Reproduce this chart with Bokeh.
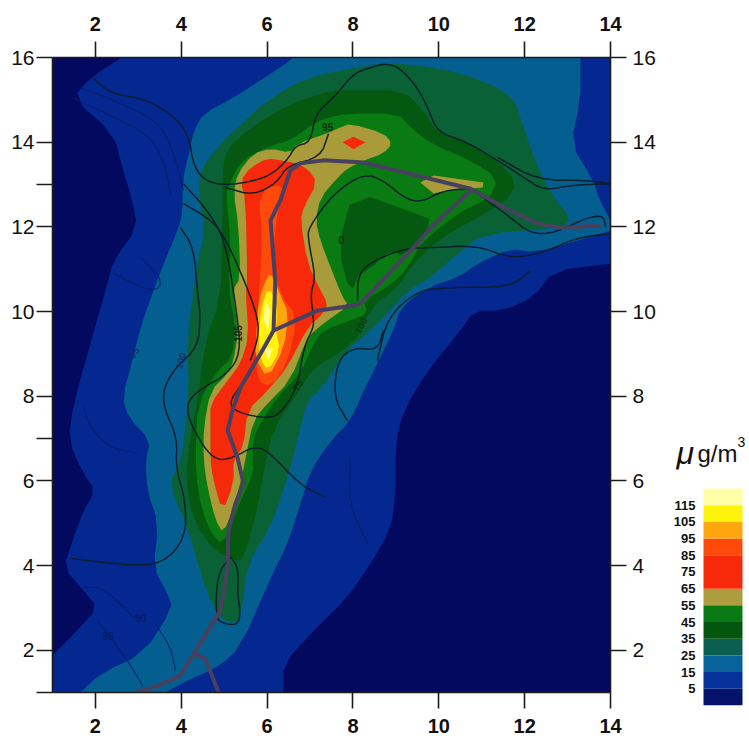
from bokeh.plotting import figure
from bokeh.layouts import row, column
from bokeh.models import Range1d, LinearAxis, FixedTicker, ColumnDataSource
from bokeh.core.properties import value
from bokeh.embed import file_html
from bokeh.resources import INLINE

AXIS_TICKS = [2, 4, 6, 8, 10, 12, 14]
Y_TICKS = [2, 4, 6, 8, 10, 12, 14, 16]
Y_MINOR = [1, 7, 13]

# filled concentration bands (map km coordinates), outermost first
BAND_5 = [(2.61,16),(1.89,15.53),(1.47,15.05),(2.42,14.2),(2.63,13.4),(2.86,12.62),(2.98,11.98),(2.42,11.21),(2.28,10.66),(1.95,9.48),(1.49,7.82),(1.37,6.95),(1.72,6.17),(2.0,5.77),(1.72,5.3),(1.47,4.59),(1.26,3.95),(1.72,3.41),(2.05,3.01),(1.65,2.54),(1,1.88),(1,1),(6.38,1),(6.38,1.68),(7.08,2.46),(7.87,3.24),(8.41,4.05),(8.87,4.83),(8.99,5.61),(8.99,6.88),(9.18,7.66),(9.74,8.61),(10.51,9.55),(10.81,10.02),(11.51,10.02),(12.21,10.34),(12.67,10.97),(14,11.13),(14,16)]
BAND_15 = [(6.61,16),(6.38,15.81),(5.22,15.05),(4.52,14.68),(4.29,14.27),(4.21,13.87),(4.03,13.09),(4.03,12.3),(3.91,11.9),(3.59,11.13),(3.35,10.49),(3.05,9.62),(2.86,8.84),(2.63,7.97),(2.77,7.5),(3.28,6.95),(3.17,6.48),(3.21,5.77),(3.47,4.98),(3.35,3.95),(3.68,3.34),(3.8,2.99),(3.12,1.92),(2.12,1.45),(1.65,1),(3.63,1),(4.14,1.28),(4.84,1.59),(5.38,2.07),(6.08,3.71),(6.48,4.52),(6.78,5.46),(7.01,6.24),(7.48,6.95),(7.94,7.42),(8.25,8.13),(8.57,8.77),(8.94,9.55),(9.11,10.09),(9.74,10.57),(10.44,10.8),(10.9,11.13),(11.67,11.49),(12.21,11.39),(13.23,11.67),(13.84,11.86),(14,11.91),(14,12.15),(13.72,12.69),(13.6,13.09),(13.07,13.97),(13.3,14.98),(13.3,16)]
BAND_25 = [(7.94,15.74),(8.8,15.88),(9.97,15.76),(11.04,15.46),(11.74,15.05),(11.9,14.58),(12.3,13.4),(12.67,12.69),(13.07,12.22),(12.91,11.98),(11.04,11.84),(10.44,11.37),(9.81,10.8),(9.27,10.49),(8.8,9.95),(8.34,9.48),(7.83,9.07),(7.24,8.13),(6.94,7.94),(6.66,6.79),(6.47,6.08),(6.08,4.9),(5.54,4.05),(5.38,2.7),(5.08,2.63),(4.75,3.01),(4.45,3.81),(4.15,4.9),(3.7,5.94),(3.98,6.41),(4.1,7.26),(4.17,8.06),(4.15,9.48),(4.26,10.26),(4.38,11.21),(4.56,11.91),(4.38,12.86),(4.52,13.5),(5.15,14.21),(6.08,15.05),(6.94,15.53)]
BAND_35 = [(4.96,13.21),(5.03,13.8),(5.61,14.35),(6.54,14.91),(7.48,15.22),(8.01,15.22),(9.18,15.22),(9.64,14.75),(9.97,14.21),(10.74,13.97),(11.37,13.57),(11.83,13.02),(11.51,12.55),(11.04,12.31),(9.97,11.68),(9.41,11.13),(9.04,10.57),(8.41,10.09),(8.18,9.48),(7.78,9.08),(7.08,8.68),(6.71,8.06),(6.15,7.26),(5.92,6.24),(5.78,5.37),(5.45,4.12),(5.26,4.12),(4.75,4.36),(4.28,5.06),(4.1,6.08),(4.21,7.02),(4.38,7.9),(4.56,9.31),(4.91,10.26),(4.96,11.91)]
BAND_45 = [(5.05,12.74),(5.08,12.93),(5.38,13.57),(6.08,13.92),(6.54,14.04),(7.08,14.44),(7.41,14.58),(7.87,14.68),(9.04,14.68),(9.34,14.35),(9.81,13.97),(10.74,13.57),(11.37,13.16),(11.2,12.69),(10.9,12.55),(10.44,12.31),(9.57,11.61),(9.34,11.13),(8.94,10.66),(8.25,10.26),(8.34,9.95),(7.94,9.79),(7.31,9.55),(7.08,9.24),(6.78,8.54),(6.31,8.06),(5.92,7.5),(5.68,7.02),(5.66,6.55),(5.68,6.17),(5.31,5.37),(4.98,4.43),(4.61,4.9),(4.38,5.77),(4.33,6.55),(4.38,7.82),(4.84,8.61),(5.19,8.91),(5.26,9.71),(5.1,10.49),(5.15,11.68)]
HOLE_35 = [(8.01,12.85),(9.55,12.28),(9.85,12.15),(9.45,11.45),(8.18,10.98),(7.94,10.4),(7.65,11.51)]
LENS_45 = [(8.41,11.04),(8.94,11.49),(9.27,11.13),(9.11,10.8),(8.57,10.73)]
BAND_55 = [(5.31,13.26),(5.68,13.73),(6.08,13.85),(6.54,13.75),(6.71,13.97),(7.41,14.21),(7.71,14.35),(7.94,14.44),(8.71,14.21),(8.92,13.97),(8.71,13.73),(8.25,13.57),(7.87,13.38),(7.64,13.16),(7.24,12.69),(7.13,12.15),(7.24,11.68),(7.48,11.04),(7.76,10.33),(7.9,10.14),(7.31,9.72),(6.94,9.39),(6.54,8.37),(6.01,7.83),(5.68,7.43),(5.5,6.55),(5.43,6.17),(5.22,5.37),(4.98,4.76),(4.8,5.06),(4.61,5.84),(4.52,6.48),(4.52,7.26),(4.68,8.13),(5.08,8.53),(5.22,8.84),(5.33,9.55),(5.19,10.49),(5.38,10.8),(5.33,12.08),(5.22,12.79)]
ISLAND_55 = [(9.57,13.05),(9.88,13.21),(11.04,13.05),(11.02,12.93),(10.2,12.86),(9.88,12.79)]
BAND_65 = [(5.38,13.09),(5.61,13.4),(6.01,13.62),(6.31,13.57),(6.61,13.52),(6.94,13.38),(7.17,13.05),(6.85,12.46),(6.78,12.15),(6.94,11.14),(7.24,10.5),(7.41,10.19),(7.31,9.95),(6.94,9.62),(6.47,8.68),(6.01,8.13),(5.54,7.66),(5.45,6.79),(5.22,6.55),(5.22,5.94),(4.96,5.25),(4.73,6.08),(4.68,6.55),(4.68,7.35),(4.68,7.83),(5.08,8.37),(5.38,8.77),(5.57,9.39),(5.5,10.42),(5.54,10.66),(5.5,12.62)]
ISLAND_65 = [(7.76,14.0),(8.01,14.13),(8.29,14.0),(8.01,13.83)]
BAND_85 = [(5.8,12.86),(6.43,13.02),(6.24,12.39),(6.13,11.21),(6.31,10.39),(6.71,9.87),(6.47,8.77),(6.08,8.21),(5.78,8.37),(5.73,9.08),(5.8,10.26),(5.89,11.68)]
BAND_95 = [(6.01,10.85),(5.8,10.26),(5.75,9.48),(5.72,8.91),(6.01,8.4),(6.4,9.15),(6.5,9.95),(6.3,10.4),(6.13,10.85)]
BAND_105 = [(6.03,10.6),(5.85,10.02),(5.8,9.32),(5.85,8.85),(6.03,8.6),(6.3,9.08),(6.2,9.55),(6.25,10.14)]
BAND_115A = [(5.96,10.26),(5.92,9.79),(6.03,9.55),(6.08,10.02)]
BAND_115B = [(5.94,9.13),(6.03,8.83),(6.13,9.13)]

BAND_COLORS = {
    "navy": "#03095f", "blue": "#04288f", "teal": "#045f90", "tealgreen": "#0b6136",
    "deep": "#04580f", "green": "#0a7a12", "khaki": "#a99a3a", "red": "#f62a0a",
    "orangered": "#ff4a0c", "orange": "#ffa50e", "yellow": "#fff20c", "pale": "#ffff8c",
}
BANDS = [
    (BAND_5, "blue", 1), (BAND_15, "teal", 1), (BAND_25, "tealgreen", 1), (BAND_35, "deep", 1),
    (BAND_45, "green", 1), (HOLE_35, "deep", 1), (LENS_45, "green", 1), (BAND_55, "khaki", 1),
    (ISLAND_55, "khaki", 0), (BAND_65, "red", 1), (ISLAND_65, "red", 0), (BAND_85, "orangered", 1),
    (BAND_95, "orange", 1), (BAND_105, "yellow", 1), (BAND_115A, "pale", 0), (BAND_115B, "pale", 0),
]

# thin contour lines
DARK_LINES = [
    [(1.96,15.5),(2.35,15.15),(3.12,15.03),(3.75,14.68),(4.17,14.2),(4.29,13.4),(4.61,13.05),(5.15,12.98),(6.01,13.16),(6.47,13.57),(6.66,13.92),(7.01,13.99),(7.13,14.68),(7.55,15.05),(8.01,15.62),(8.41,15.77),(8.8,15.86),(9.11,15.74),(9.5,15.29),(9.74,14.82),(9.97,14.23),(10.58,14.04),(11.37,13.57),(11.97,13.17),(12.44,12.86),(13.07,12.98),(14,13.02)],
    [(11.37,13.64),(12.3,13.1),(13.46,13.1),(14,13.02)],
    [(5.03,12.93),(5.68,12.74),(6.24,13.05),(6.47,13.45),(7.24,13.64),(7.43,14.2)],
    [(5.43,8.3),(5.1,7.85),(5.31,7.61),(6.01,7.47),(6.31,7.59),(6.71,8.2),(6.85,9.15),(7.08,9.62),(7.08,9.86),(7.01,10.43),(7.13,10.8),(6.96,11.68),(6.96,11.98),(7.55,12.79),(8.25,13.26),(8.71,13.1),(9.18,12.69),(9.57,12.57),(10.11,12.86),(10.74,12.9)],
    [(4.05,13.02),(4.61,12.39),(5.03,11.68),(5.31,9.86),(5.38,9.01),(5.08,8.53),(4.52,8.21),(4.15,7.9),(4.15,7.5),(4.52,6.79),(4.84,6.48),(5.22,6.55),(5.68,6.81),(6.01,6.72),(6.78,5.89),(7.36,5.61)],
    [(4.05,12.55),(4.61,12.22),(4.98,11.84),(5.54,10.57),(5.8,9.79),(5.78,9.32),(5.61,8.84)],
    [(3.98,11.98),(4.29,11.51),(4.38,10.43),(4.45,9.86),(4.38,9.15),(3.87,8.68),(3.59,8.2),(3.59,7.73),(3.91,7.02),(3.87,6.31),(4.1,5.53),(4.1,4.66),(3.59,4.05),(2.75,4.0),(1.42,4.17)],
    [(5.15,4.2),(5.33,3.95),(5.31,3.34),(5.38,2.87),(5.31,2.59),(4.98,2.63),(4.8,2.77),(4.84,3.81),(5.15,4.2)],
    [(8.71,9.55),(8.57,9.08),(8.01,9.15),(7.64,8.84),(7.55,7.97),(7.87,7.42)],
    [(8.11,10.26),(8.11,10.8),(8.34,11.13),(9.18,11.49),(9.88,11.51),(10.9,11.56),(11.67,11.25),(12.44,11.39),(13.23,11.75),(14,11.84)],
    [(8.57,8.84),(8.8,9.86),(9.5,10.49),(10.2,10.57),(11.67,10.57),(12.14,10.97)],
    [(10.81,12.86),(11.67,12.22),(12.14,11.84),(12.67,11.84),(13.46,12.22),(13.84,12.27),(13.89,11.98)],
]
FAINT_LINES = [
    [(1.47,15.05),(2.35,14.63),(3.28,14.16),(3.63,13.45),(3.75,12.74)],
    [(1.65,15.29),(2.42,14.99),(3.45,14.51),(3.82,13.8),(4.05,12.86)],
    [(3.05,11.28),(3.59,10.73),(3.35,10.43),(2.42,10.9)],
    [(1.72,7.82),(1.82,7.35),(2.28,6.79),(2.98,6.65)],
    [(1.72,3.48),(2.19,3.48),(2.89,2.77)],
    [(2.05,2.7),(2.75,1.76),(3.1,1.16)],
    [(3.45,2.54),(3.75,2.07),(3.87,1.52)],
    [(7.94,6.55),(7.9,5.46),(8.34,4.52)],
]
# road network
ROADS = [
    [(2.77,0.95),(3.45,1.16),(3.98,1.4),(4.38,2.06),(4.91,2.94),(5.08,3.95),(5.1,4.83),(5.26,5.46),(5.45,5.94),(5.31,6.55),(5.08,7.19),(5.19,7.66),(5.38,8.21),(5.85,9.01),(6.15,9.55),(6.19,10.73),(6.08,12.15),(6.31,12.63),(6.54,13.33),(6.78,13.5),(7.31,13.57),(8.25,13.52),(9.18,13.29),(10.74,12.9),(11.51,12.46),(12.3,12.08),(12.91,11.97),(13.77,12.04)],
    [(6.15,9.55),(7.17,10.02),(8.01,10.14),(8.18,10.19),(9.5,11.61),(9.81,11.98),(10.74,12.86)],
    [(4.29,1.92),(4.56,1.8),(4.87,1.0)],
]
# contour labels: x, y, text, angle in degrees
CONTOUR_LABELS = [
    (5.33,9.48,"105",90,"#111111"),(3.98,8.84,"100",75,"#16305a"),(2.89,9.03,"95",55,"#14286e"),
    (8.18,9.67,"100",60,"#0a3a1a"),(7.73,11.7,"0",0,"#0a2a10"),(7.41,14.35,"95",0,"#0a1a10"),
    (6.71,8.26,"75",60,"#0a2a10"),(2.3,2.33,"85",0,"#041a60"),(3.05,2.76,"90",0,"#041a60"),
]

LEGEND_EDGES = [-5,5,15,25,35,45,55,65,75,85,95,105,115,125]
LEGEND_COLORS = ["#04126a","#06309a","#07639a","#0b5f50","#04560f","#0a7a15","#ad9c3d","#f62a0a","#f62a0a","#ff4a0c","#ffa50e","#fff20c","#ffffa8"]
LEGEND_TICKS = [5,15,25,35,45,55,65,75,85,95,105,115]
LEGEND_UNIT_LEVEL = 146

INK = "#1c1c1c"


def smooth(pts, closed, rounds=2):
    """Corner-cut a digitised outline, keeping vertices that sit on the frame."""
    def fixed(q):
        return q[0] in (1, 14) or q[1] in (1, 16)
    for _ in range(rounds):
        out = []
        n = len(pts)
        for i in range(n if closed else n - 1):
            a, b = pts[i], pts[(i + 1) % n]
            if fixed(a):
                out.append(a)
            else:
                out.append((0.75 * a[0] + 0.25 * b[0], 0.75 * a[1] + 0.25 * b[1]))
            if not fixed(b):
                out.append((0.25 * a[0] + 0.75 * b[0], 0.25 * a[1] + 0.75 * b[1]))
        if not closed:
            out = [pts[0]] + out + [pts[-1]]
        pts = out
    return pts


p = figure(frame_width=558, frame_height=635, x_range=Range1d(1, 14), y_range=Range1d(1, 16),
           output_backend="svg", toolbar_location=None, x_axis_location=None, y_axis_location=None,
           min_border_left=52, min_border_right=62, min_border_top=57, min_border_bottom=47,
           background_fill_color=BAND_COLORS["navy"], outline_line_color=None, border_fill_color="white")
p.grid.visible = False

for ring, key, rounds in BANDS:
    s = smooth(ring, True, rounds)
    p.patch([a for a, _ in s], [b for _, b in s], fill_color=BAND_COLORS[key], line_color=None)
for ln in FAINT_LINES:
    s = smooth(ln, False)
    p.line([a for a, _ in s], [b for _, b in s], line_color="#03206e", line_width=1.2, line_alpha=0.85)
for ln in DARK_LINES:
    s = smooth(ln, False)
    p.line([a for a, _ in s], [b for _, b in s], line_color="#0c1e2a", line_width=1.5, line_alpha=0.95)
for ln in ROADS:
    p.line([a for a, _ in ln], [b for _, b in ln], line_color="#48405f", line_width=4, line_join="round")
src = ColumnDataSource(dict(x=[c[0] for c in CONTOUR_LABELS], y=[c[1] for c in CONTOUR_LABELS],
                            t=[c[2] for c in CONTOUR_LABELS], a=[c[3] for c in CONTOUR_LABELS],
                            c=[c[4] for c in CONTOUR_LABELS]))
p.text("x", "y", text="t", angle="a", angle_units="deg", source=src, text_color="c",
       text_font=value("Liberation Sans"), text_font_size="10px", text_font_style="bold",
       text_align="center", text_baseline="middle", text_alpha=0.85)


def style(ax, size, bold, standoff):
    ax.major_tick_out = 16
    ax.major_tick_in = 0
    ax.minor_tick_out = 0
    ax.minor_tick_in = 0
    ax.major_tick_line_color = INK
    ax.major_tick_line_width = 1.6
    ax.axis_line_color = INK
    ax.axis_line_width = 1.6
    ax.major_label_text_font = "Liberation Sans"
    ax.major_label_text_font_size = size
    ax.major_label_text_font_style = "bold" if bold else "normal"
    ax.major_label_text_color = "#111111"
    ax.major_label_standoff = standoff


for side in ("above", "below"):
    ax = LinearAxis(ticker=FixedTicker(ticks=AXIS_TICKS))
    style(ax, "20px", True, 11 if side == "above" else 10)
    p.add_layout(ax, side)
for side in ("left", "right"):
    ax = LinearAxis(ticker=FixedTicker(ticks=Y_TICKS, minor_ticks=Y_MINOR if side == "left" else []))
    style(ax, "21px", False, 2 if side == "left" else 6)
    if side == "left":
        ax.minor_tick_out = 16
        ax.minor_tick_line_color = INK
        ax.minor_tick_line_width = 1.6
    p.add_layout(ax, side)

# colour key: a frame of its own, wide and tall enough to carry its texts
leg = figure(frame_width=77, frame_height=275, x_range=Range1d(0, 77),
             y_range=Range1d(-5, 125 + 58 / 217 * 130),
             output_backend="svg", toolbar_location=None, x_axis_location=None, y_axis_location=None,
             min_border_left=0, min_border_right=0, min_border_top=430, min_border_bottom=34,
             outline_line_color=None, background_fill_color="white")
leg.grid.visible = False
leg.quad(left=31, right=70, bottom=LEGEND_EDGES[:-1], top=LEGEND_EDGES[1:], fill_color=LEGEND_COLORS, line_color=None)
leg.text(x=[23] * len(LEGEND_TICKS), y=LEGEND_TICKS, text=[str(t) for t in LEGEND_TICKS],
         text_font=value("Liberation Sans"), text_font_size="13px", text_font_style="bold",
         text_color="#111111", text_align="right", text_baseline="middle")
for txt, xs, size, style_, dy in [("μ", 4, "32px", "italic", 0), ("g/m", 25, "24px", "normal", 0), ("3", 65, "14px", "normal", 11)]:
    leg.text(x=[xs], y=[LEGEND_UNIT_LEVEL + dy / 217 * 130], text=[txt], text_font=value("Liberation Sans"),
             text_font_size=size, text_font_style=style_, text_color="#111111", text_baseline="alphabetic")

p.align = "start"
leg.align = "start"
layout = row(column(p), column(leg))
open("out.html", "w").write(file_html(layout, INLINE))
